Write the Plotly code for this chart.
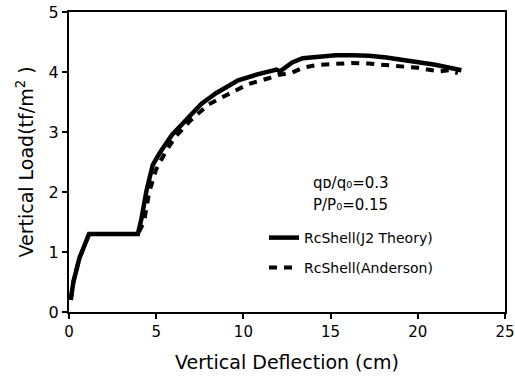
import plotly.graph_objects as go

# Data
j2_x = [0.1, 0.25, 0.6, 1.15, 2.5, 3.95, 4.15, 4.45, 4.8, 5.2, 5.9, 6.9, 7.6, 8.45, 9.7,
        10.8, 11.6, 11.9, 12.1, 12.4, 12.8, 13.4, 14.3, 15.3, 16.3, 17.2, 18.2, 19.1, 20.0, 21.0, 22.5]
j2_y = [0.2, 0.5, 0.9, 1.3, 1.3, 1.3, 1.55, 2.03, 2.45, 2.65, 2.95, 3.27, 3.47, 3.65, 3.86,
        3.96, 4.01, 4.04, 4.01, 4.08, 4.16, 4.23, 4.26, 4.28, 4.28, 4.27, 4.24, 4.2, 4.17, 4.12, 4.03]

and_x = [0.1, 0.25, 0.6, 1.15, 3.95, 4.3, 4.6, 5.0, 5.5, 6.1, 7.0, 8.0, 9.4, 10.3, 11.5,
         12.0, 12.8, 13.4, 14.3, 15.2, 16.2, 17.2, 18.1, 19.0, 20.0, 21.2, 21.8, 22.3]
and_y = [0.2, 0.5, 0.9, 1.3, 1.3, 1.5, 2.0, 2.38, 2.65, 2.92, 3.2, 3.46, 3.67, 3.8, 3.9,
         3.95, 3.99, 4.07, 4.12, 4.14, 4.15, 4.14, 4.12, 4.1, 4.07, 4.01, 4.03, 3.98]

x_ticks = [0, 5, 10, 15, 20, 25]
y_ticks = [0, 1, 2, 3, 4, 5]

FONT = "DejaVu Sans"

fig = go.Figure()
fig.add_trace(go.Scatter(x=j2_x, y=j2_y, mode="lines", name="RcShell(J2 Theory)",
                         line=dict(color="black", width=4.5), legend="legend", showlegend=True))
fig.add_trace(go.Scatter(x=and_x, y=and_y, mode="lines", name="RcShell(Anderson)",
                         line=dict(color="black", width=4, dash="8px,7px"), legend="legend2",
                         showlegend=True))

L, R, T, B = 69, 10, 12, 75
W, H = 515, 387
pw, ph = W - L - R, H - T - B

def px2paper_x(px):
    return (px - L) / pw

def px2paper_y(py):
    return (H - B - py) / ph

fig.update_layout(
    width=W, height=H,
    showlegend=True,
    margin=dict(l=L, r=R, t=T, b=B, autoexpand=False),
    paper_bgcolor="white", plot_bgcolor="white",
    font=dict(family=FONT, color="black", size=15),
    xaxis=dict(range=[0, 25], tickvals=x_ticks, showgrid=False, zeroline=False,
               showline=True, linecolor="black", linewidth=2, mirror=True,
               ticks="outside", ticklen=5, tickwidth=2, tickcolor="black",
               ticklabeloverflow="allow", automargin=False,
               tickfont=dict(size=15, family=FONT),
               title=dict(text="Vertical Deflection (cm)", font=dict(size=19, family=FONT), standoff=16)),
    yaxis=dict(range=[0, 5], tickvals=y_ticks, showgrid=False, zeroline=False,
               showline=True, linecolor="black", linewidth=2, mirror=True,
               ticks="outside", ticklen=5, tickwidth=2, tickcolor="black",
               ticklabeloverflow="allow", automargin=False,
               tickfont=dict(size=16, family=FONT),
               title=dict(text="Vertical Load(tf/m<sup>2</sup> )", font=dict(size=19, family=FONT), standoff=10)),
    legend=dict(x=px2paper_x(264), y=px2paper_y(238), xanchor="left", yanchor="middle",
                bgcolor="rgba(0,0,0,0)", font=dict(size=14, family=FONT), itemwidth=30),
    legend2=dict(x=px2paper_x(264), y=px2paper_y(268), xanchor="left", yanchor="middle",
                 bgcolor="rgba(0,0,0,0)", font=dict(size=14, family=FONT), itemwidth=30),
    annotations=[
        dict(xref="paper", yref="paper", x=px2paper_x(311), y=px2paper_y(183),
             xanchor="left", yanchor="middle", showarrow=False,
             text="qᴅ/q₀=0.3",
             font=dict(size=15, family=FONT)),
        dict(xref="paper", yref="paper", x=px2paper_x(311), y=px2paper_y(205),
             xanchor="left", yanchor="middle", showarrow=False,
             text="P/P₀=0.15",
             font=dict(size=15, family=FONT)),
    ],
)

fig.write_html("out.html")
